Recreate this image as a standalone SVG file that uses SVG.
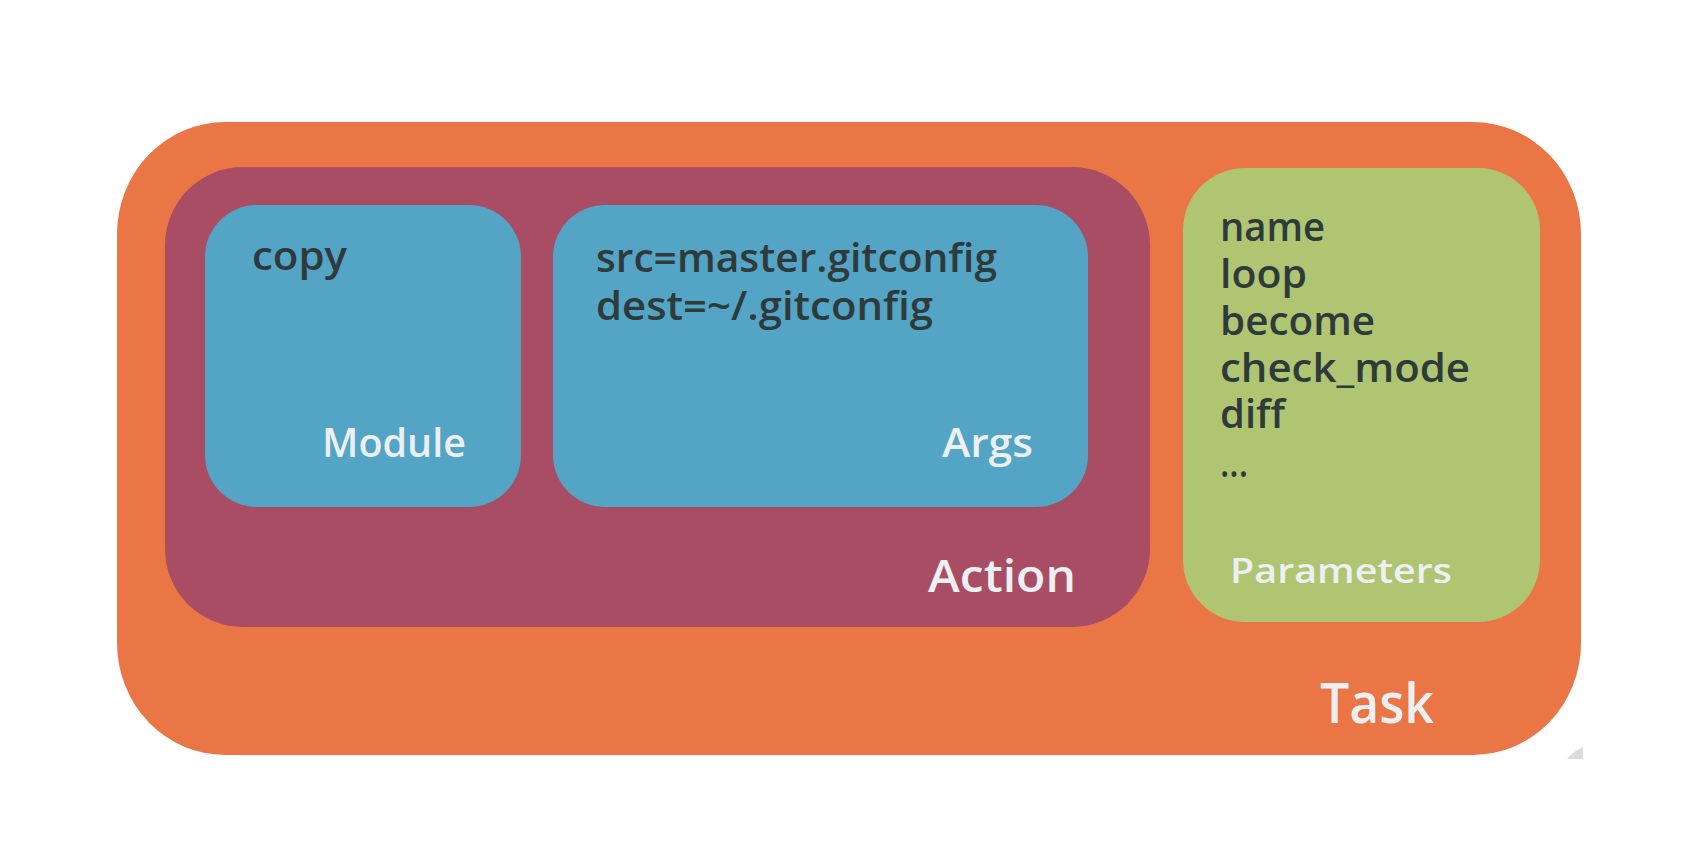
<svg xmlns="http://www.w3.org/2000/svg" width="1684" height="860" viewBox="0 0 1684 860">
<style>
.dark{font-family:"Open Sans","Liberation Sans",sans-serif;font-weight:600;font-size:40px;fill:#2F3A3B}
.lbl{font-family:"Open Sans","Liberation Sans",sans-serif;font-weight:600;fill:#ECF0F2}
</style>
<rect x="0" y="0" width="1684" height="860" fill="#FFFFFF"/>
<g id="task">
<rect x="117" y="122" width="1464" height="633" rx="108" ry="112" fill="#EB7645"/>
<text class="lbl" x="1320" y="723" font-size="56" textLength="114" lengthAdjust="spacingAndGlyphs">Task</text>
</g>
<path d="M1567,759 L1583,759 L1583,747 Q1574,751 1567,759 Z" fill="#DCDCDC"/>
<g id="action">
<rect x="165" y="167" width="985" height="460" rx="78" ry="78" fill="#A84D64"/>
<text class="lbl" x="928" y="592" font-size="46" textLength="148" lengthAdjust="spacingAndGlyphs">Action</text>
</g>
<g id="module">
<rect x="205" y="205" width="316" height="302" rx="52" ry="52" fill="#53A4C5"/>
<text class="dark" x="252" y="270" textLength="95" lengthAdjust="spacingAndGlyphs">copy</text>
<text class="lbl" x="322" y="457" font-size="39" textLength="144" lengthAdjust="spacingAndGlyphs">Module</text>
</g>
<g id="args">
<rect x="553" y="205" width="535" height="302" rx="52" ry="52" fill="#53A4C5"/>
<text class="dark" x="596" y="272" textLength="401" lengthAdjust="spacingAndGlyphs">src=master.gitconfig</text>
<text class="dark" x="596" y="320" textLength="337" lengthAdjust="spacingAndGlyphs">dest=~/.gitconfig</text>
<text class="lbl" x="942" y="457" font-size="39" textLength="91" lengthAdjust="spacingAndGlyphs">Args</text>
</g>
<g id="parameters">
<rect x="1183" y="168" width="357" height="454" rx="62" ry="62" fill="#B0C572"/>
<text class="dark" x="1220" y="241" textLength="105" lengthAdjust="spacingAndGlyphs">name</text>
<text class="dark" x="1220" y="288" textLength="87" lengthAdjust="spacingAndGlyphs">loop</text>
<text class="dark" x="1220" y="335" textLength="155" lengthAdjust="spacingAndGlyphs">become</text>
<text class="dark" x="1220" y="382" textLength="250" lengthAdjust="spacingAndGlyphs">check_mode</text>
<text class="dark" x="1220" y="428" textLength="65" lengthAdjust="spacingAndGlyphs">diff</text>
<text class="dark" x="1220" y="477" textLength="28" lengthAdjust="spacingAndGlyphs">...</text>
<text class="lbl" x="1230" y="583" font-size="35" textLength="222" lengthAdjust="spacingAndGlyphs">Parameters</text>
</g>
<g id="connectors"></g>
</svg>
